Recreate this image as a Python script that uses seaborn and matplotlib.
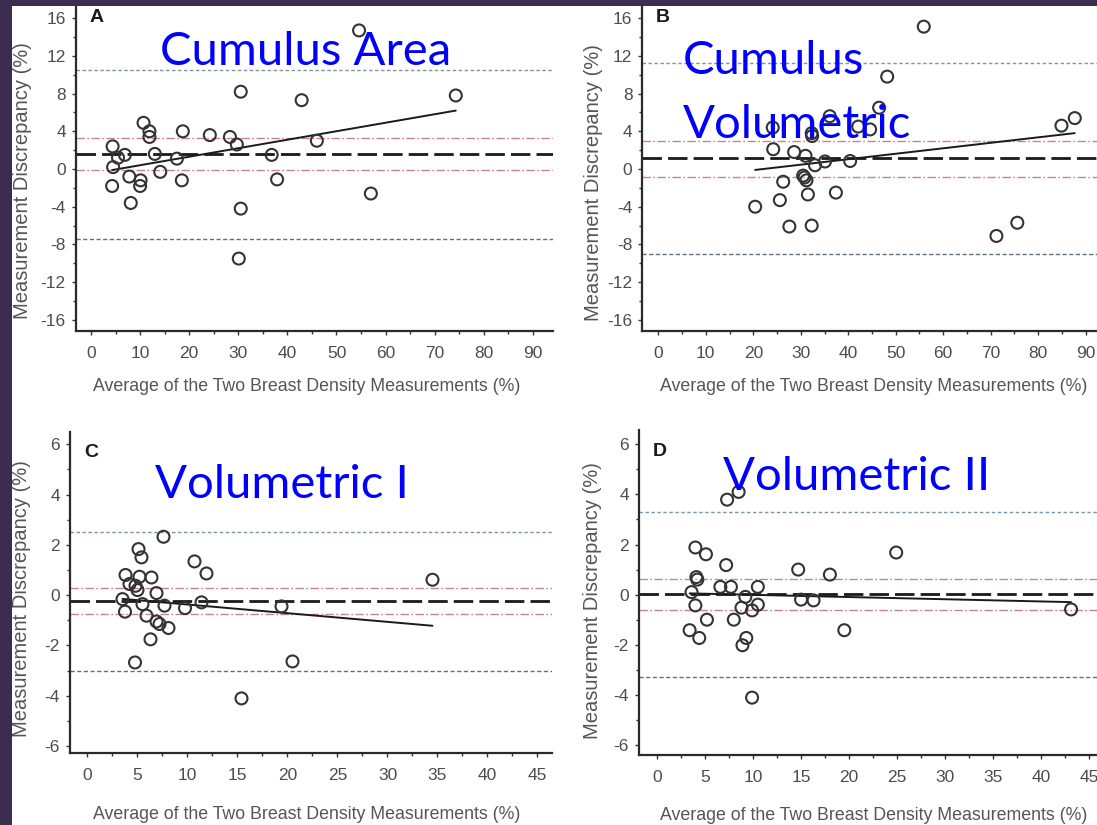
import numpy as np
import pandas as pd
import matplotlib
matplotlib.use("Agg")
import matplotlib.pyplot as plt
from matplotlib import font_manager
from matplotlib.patches import Rectangle
from matplotlib.ticker import MultipleLocator
import seaborn as sns

# ---------------- data ----------------
A_x = [4.4, 4.5, 4.3, 5.5, 6.9, 7.8, 8.1, 10.7, 11.9, 11.9, 10.1, 10.0, 13.0, 14.1, 17.5,
       18.7, 18.5, 24.2, 28.3, 29.7, 30.5, 30.5, 30.1, 36.8, 37.9, 42.9, 46.0, 54.6, 57.0, 74.3]
A_y = [2.4, 0.2, -1.8, 1.2, 1.5, -0.8, -3.6, 4.9, 4.0, 3.4, -1.2, -1.8, 1.6, -0.3, 1.1,
       4.0, -1.2, 3.6, 3.4, 2.6, 8.2, -4.2, -9.5, 1.5, -1.1, 7.3, 3.0, 14.7, -2.6, 7.8]

B_x = [55.9, 48.2, 46.5, 24.1, 36.1, 32.3, 32.4, 42.1, 44.6, 24.2, 28.6, 31.0, 33.0, 35.1, 40.4,
       30.5, 31.2, 26.3, 31.5, 37.4, 25.6, 20.4, 27.6, 32.3, 71.2, 75.6, 84.9, 87.7, 30.8]
B_y = [15.1, 9.8, 6.5, 4.4, 5.6, 3.8, 3.5, 4.5, 4.2, 2.1, 1.8, 1.4, 0.4, 0.8, 0.85,
       -0.7, -1.2, -1.35, -2.7, -2.5, -3.3, -4.0, -6.1, -6.0, -7.1, -5.7, 4.6, 5.4, -0.9]

C_x = [7.6, 5.1, 5.4, 10.7, 11.9, 3.8, 5.2, 6.4, 4.2, 4.8, 6.9, 34.5, 3.5, 5.5, 11.4,
       7.7, 9.75, 19.4, 3.75, 5.9, 6.9, 7.2, 8.1, 6.3, 4.75, 20.5, 15.4, 5.0]
C_y = [2.32, 1.83, 1.5, 1.34, 0.86, 0.8, 0.73, 0.7, 0.44, 0.37, 0.08, 0.61, -0.16, -0.36, -0.29,
       -0.42, -0.52, -0.45, -0.66, -0.82, -1.05, -1.15, -1.31, -1.76, -2.68, -2.64, -4.11, 0.2]

D_x = [8.5, 7.3, 4.0, 5.1, 7.2, 24.9, 14.7, 18.0, 4.1, 4.2, 6.6, 7.7, 10.5, 3.6, 9.2,
       15.0, 16.3, 4.0, 10.5, 8.8, 9.9, 43.1, 5.2, 8.0, 3.4, 4.4, 9.3, 8.9, 19.5, 9.9]
D_y = [4.1, 3.79, 1.88, 1.61, 1.18, 1.68, 1.0, 0.8, 0.7, 0.6, 0.31, 0.31, 0.31, 0.1, -0.09,
       -0.2, -0.23, -0.43, -0.4, -0.52, -0.63, -0.59, -1.0, -1.0, -1.42, -1.73, -1.73, -2.02, -1.42, -4.11]

# mean bias, 95% CI of bias (red), limits of agreement (blue)
mean_bias = {"A": 1.56, "B": 1.13, "C": -0.25, "D": 0.04}
ci_bias = {"A": (3.25, -0.1), "B": (3.0, -0.8), "C": (0.28, -0.76), "D": (0.64, -0.63)}
loa = {"A": (10.5, -7.46), "B": (11.2, -9.0), "C": (2.52, -3.01), "D": (3.3, -3.28)}
# regression line (intercept, slope)
fit = {"A": (-0.497, 0.0901), "B": (-1.28, 0.058), "C": (-0.03, -0.0345), "D": (0.08, -0.0088)}

panel_letters = ["A", "B", "C", "D"]
overlay_titles = {"A": "Cumulus Area", "B": "Cumulus\nVolumetric",
                  "C": "Volumetric I", "D": "Volumetric II"}
xlabel_text = "Average of the Two Breast Density Measurements (%)"
ylabel_text = "Measurement Discrepancy (%)"

data = {"A": (A_x, A_y), "B": (B_x, B_y), "C": (C_x, C_y), "D": (D_x, D_y)}

# ---------------- style ----------------
sns.set_style("ticks")
names = {f.name for f in font_manager.fontManager.ttflist}
has_narrow = "Liberation Sans Narrow" in names
plt.rcParams["font.family"] = ["Liberation Sans", "DejaVu Sans"]
plt.rcParams["axes.unicode_minus"] = False
narrow_fam = ["Liberation Sans Narrow", "Liberation Sans"] if has_narrow else ["Liberation Sans"]

W, H = 1097, 825
fig = plt.figure(figsize=(W / 100, H / 100), dpi=100, facecolor="white")

# axes boxes in pixels: left, top, right, bottom ; limits
layout = {
    "A": dict(box=(75.5, 6, 553, 331), xlim=(-3.16, 94.1), ylim=(-17.18, 17.29),
              xmin=5, ymin=2, xt=range(0, 91, 10), yt=range(-16, 17, 4),
              xl=(0.485, -0.172), yl=(-0.112, 0.4615)),
    "B": dict(box=(642.2, 6, 1097, 331), xlim=(-3.39, 92.38), ylim=(-17.18, 17.29),
              xmin=5, ymin=2, xt=range(0, 91, 10), yt=range(-16, 17, 4),
              xl=(0.51, -0.172), yl=(-0.108, 0.458)),
    "C": dict(box=(69.6, 431.7, 552, 752.7), xlim=(-1.79, 46.45), ylim=(-6.27, 6.50),
              xmin=2.5, ymin=1, xt=range(0, 46, 5), yt=range(-6, 7, 2),
              xl=(0.492, -0.194), yl=(-0.099, 0.479)),
    "D": dict(box=(638.8, 430, 1097, 755), xlim=(-1.89, 45.8), ylim=(-6.40, 6.57),
              xmin=2.5, ymin=1, xt=range(0, 46, 5), yt=range(-6, 7, 2),
              xl=(0.513, -0.185), yl=(-0.101, 0.474)),
}

title_pos = {"A": [(160, 65)], "B": [(683, 74), (683, 138)], "C": [(155, 498)], "D": [(723, 490)]}

tick_color = "#4d4d4d"
for key in panel_letters:
    L = layout[key]
    l, t, r, b = L["box"]
    ax = fig.add_axes([l / W, 1 - b / H, (r - l) / W, (b - t) / H])
    ax.set_facecolor("white")
    x, y = data[key]
    df = pd.DataFrame({"avg": x, "diff": y})

    # reference lines
    ax.axhline(loa[key][0], color="#7b94a8", lw=1.0, ls=(0, (2.5, 1.8)), zorder=1)
    ax.axhline(loa[key][1], color="#5d7185", lw=1.0, ls=(0, (3.0, 1.8)), zorder=1)
    for v in ci_bias[key]:
        ax.axhline(v, color="#c98585", lw=1.0, ls=(0, (6, 1.8, 1.2, 1.8)), zorder=1)
    ax.axhline(mean_bias[key], color="#1a1a1a", lw=2.0, ls=(0, (7, 2.2)), zorder=2)

    # regression line
    b0, b1 = fit[key]
    xs = np.array([min(x), max(x)])
    sns.lineplot(x=xs, y=b0 + b1 * xs, ax=ax, color="#1a1a1a", lw=1.4, zorder=3)

    # points
    sns.scatterplot(data=df, x="avg", y="diff", ax=ax, s=74, color="#333333",
                    edgecolor="#333333", linewidth=1.5, zorder=4)
    ax.collections[-1].set_facecolor("none")

    ax.set_xlim(*L["xlim"])
    ax.set_ylim(*L["ylim"])
    ax.set_xticks(list(L["xt"]))
    ax.set_yticks(list(L["yt"]))
    ax.xaxis.set_minor_locator(MultipleLocator(L["xmin"]))
    ax.yaxis.set_minor_locator(MultipleLocator(L["ymin"]))
    ax.tick_params(axis="both", which="major", direction="out", length=3, width=1.0,
                   color="#333333", labelcolor=tick_color, labelsize=12.5)
    ax.tick_params(axis="x", which="major", pad=8)
    ax.tick_params(axis="y", which="major", pad=4)
    ax.tick_params(axis="both", which="minor", direction="out", length=2, width=1.0,
                   color="#333333")
    for lab in ax.get_xticklabels() + ax.get_yticklabels():
        lab.set_family(narrow_fam)
        lab.set_fontsize(14 if has_narrow else 12.5)

    sns.despine(ax=ax)
    for s in ["left", "bottom"]:
        ax.spines[s].set_linewidth(1.6)
        ax.spines[s].set_color("#2a2a2a")

    ax.set_xlabel(xlabel_text, color="#555555", family=narrow_fam,
                  fontsize=15 if has_narrow else 12.8)
    ax.set_ylabel(ylabel_text, color="#555555", fontsize=14.5)
    ax.xaxis.set_label_coords(*L["xl"])
    ax.yaxis.set_label_coords(*L["yl"])
    ax.xaxis.label.set_va("center")
    ax.yaxis.label.set_va("center")
    ax.yaxis.label.set_rotation_mode("anchor")

    # panel letter
    ax.text(0.03, 0.965 if key in "AB" else 0.935, key,
            transform=ax.transAxes, fontsize=14, fontweight="bold", color="#1a1a1a",
            ha="left", va="center")

    # blue overlay text
    lines = overlay_titles[key].split("\n")
    for txt, (px, py) in zip(lines, title_pos[key]):
        fig.text(px / W, 1 - py / H, txt, color="#0000ff", fontsize=34,
                 family=["Lato", "DejaVu Sans"], ha="left", va="baseline", zorder=10)

# dark slide frame
fig.add_artist(Rectangle((0, 0), 12 / W, 1, transform=fig.transFigure,
                         facecolor="#3c2d50", edgecolor="none", zorder=20))
fig.add_artist(Rectangle((0, 1 - 6 / H), 1, 6 / H, transform=fig.transFigure,
                         facecolor="#3c2d50", edgecolor="none", zorder=20))

fig.savefig("out.png", dpi=100, facecolor="white")
